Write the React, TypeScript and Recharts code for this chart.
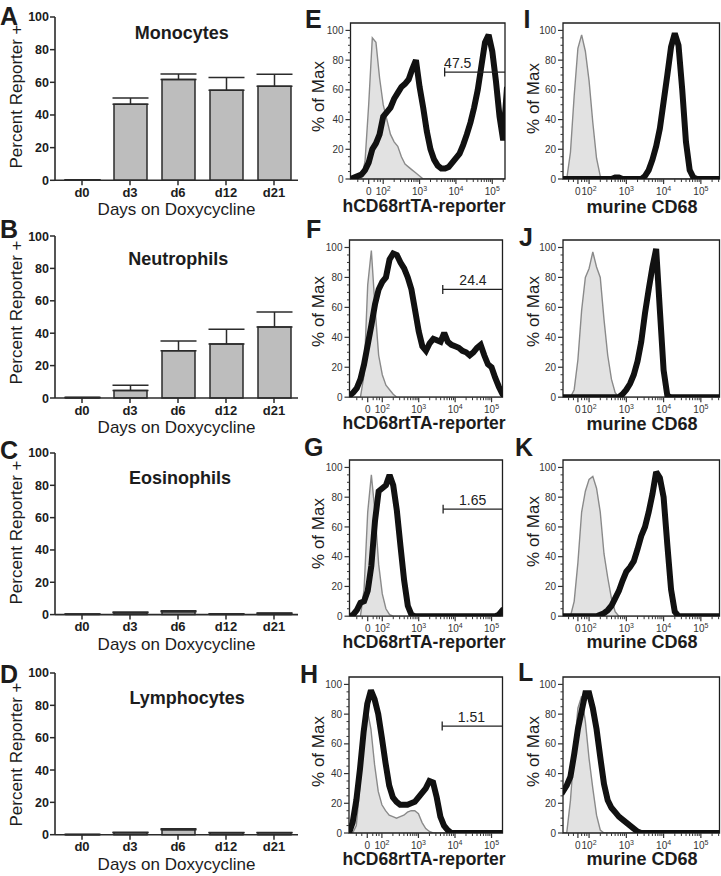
import React from "react";
import {
  BarChart,
  Bar,
  XAxis,
  YAxis,
  ErrorBar,
  ComposedChart,
  Area,
  Line,
  ReferenceArea,
  ReferenceLine,
  ReferenceDot,
} from "recharts";

const FONT = '"Liberation Sans", Arial, Helvetica, sans-serif';
const INK = "#1c1c1c";

// ---------- A-D: percent reporter+ by day ----------
const DAYS = ["d0", "d3", "d6", "d12", "d21"];
const MONOCYTES = [0.3, 46.5, 61.8, 55.1, 57.6];
const MONOCYTES_ERR = [0, 3.9, 3.3, 7.8, 7.3];
const NEUTROPHILS = [0.3, 4.7, 29.2, 33.3, 43.8];
const NEUTROPHILS_ERR = [0, 3.1, 6.0, 9.1, 9.3];
const EOSINOPHILS = [0.2, 1.2, 1.8, 0.3, 0.7];
const EOSINOPHILS_ERR = [0.1, 0.4, 0.6, 0.1, 0.3];
const LYMPHOCYTES = [0.1, 1.2, 3.0, 1.2, 1.2];
const LYMPHOCYTES_ERR = [0, 0.3, 0.7, 0.2, 0.2];
const PCT_TICKS = [0, 20, 40, 60, 80, 100];

// ---------- E-L: flow histograms (x in logicle decades) ----------
const MID_BINS = [
  1.1, 1.2, 1.3, 1.4, 1.5, 1.6, 1.7, 1.8, 1.9, 2.0,
  2.1, 2.2, 2.3, 2.4, 2.5, 2.6, 2.7, 2.8, 2.9, 3.0,
  3.1, 3.2, 3.3, 3.4, 3.5, 3.6, 3.7, 3.8, 3.9, 4.0,
  4.1, 4.2, 4.3, 4.4, 4.5, 4.6, 4.7, 4.8, 4.9, 5.0,
  5.1, 5.2, 5.3, 5.4,
];
const E_BLACK = [
  0, 1, 2, 3, 6, 11, 20, 24, 30, 42,
  45, 48, 54, 58, 62, 64, 67, 74, 80, 62,
  48, 32, 20, 13, 9, 7, 7, 8, 11, 14,
  17, 23, 30, 38, 48, 60, 76, 92, 97, 86,
  66, 42, 26, 60,
];
const E_GRAY = [
  0, 0, 0, 0, 12, 50, 95, 92, 68, 50,
  40, 30, 25, 22, 15, 10, 8, 6, 4, 2,
  0, 0, 0, 0, 0, 0, 0, 0, 0, 0,
  0, 0, 0, 0, 0, 0, 0, 0, 0, 0,
  0, 0, 0, 0,
];
const F_BLACK = [
  1, 3, 6, 12, 22, 35, 48, 62, 72, 77,
  80, 92, 96, 95, 90, 86, 80, 72, 58, 44,
  34, 31, 36, 39, 38, 37, 43, 37, 35, 34,
  33, 31, 30, 28, 30, 33, 35, 28, 22, 20,
  13, 7, 2, 0,
];
const F_GRAY = [
  0, 0, 0, 0, 15, 75, 98, 60, 28, 15,
  8, 5, 2, 0, 0, 0, 0, 0, 0, 0,
  0, 0, 0, 0, 0, 0, 0, 0, 0, 0,
  0, 0, 0, 0, 0, 0, 0, 0, 0, 0,
  0, 0, 0, 0,
];
const G_BLACK = [
  0, 1, 4, 9, 10, 17, 34, 64, 84, 86,
  88, 95, 88, 71, 47, 24, 7, 1, 0, 0,
  0, 0, 0, 0, 0, 0, 0, 0, 0, 0,
  0, 0, 0, 0, 0, 0, 0, 0, 0, 0,
  0, 1, 4, 4,
];
const G_GRAY = [
  0, 0, 0, 0, 18, 70, 95, 70, 35, 15,
  5, 1, 0, 0, 0, 0, 0, 0, 0, 0,
  0, 0, 0, 0, 0, 0, 0, 0, 0, 0,
  0, 0, 0, 0, 0, 0, 0, 0, 0, 0,
  0, 0, 0, 0,
];
const H_BLACK = [
  0, 7, 22, 43, 68, 87, 96, 90, 80, 64,
  47, 32, 24, 21, 19, 19, 19, 20, 21, 24,
  27, 30, 35, 34, 24, 11, 5, 2, 0, 0,
  0, 0, 0, 0, 0, 0, 0, 0, 0, 0,
  0, 0, 0, 0,
];
const H_GRAY = [
  0, 0, 5, 32, 66, 83, 70, 46, 28, 19,
  15, 12, 11, 10, 11, 12, 14, 15, 15, 13,
  7, 3, 1, 0, 0, 0, 0, 0, 0, 0,
  0, 0, 0, 0, 0, 0, 0, 0, 0, 0,
  0, 0, 0, 0,
];

const RIGHT_BINS = [
  1.3, 1.4, 1.5, 1.6, 1.7, 1.8, 1.9, 2.0, 2.1, 2.2,
  2.3, 2.4, 2.5, 2.6, 2.7, 2.8, 2.9, 3.0, 3.1, 3.2,
  3.3, 3.4, 3.5, 3.6, 3.7, 3.8, 3.9, 4.0, 4.1, 4.2,
  4.3, 4.4, 4.5, 4.6, 4.7, 4.8, 4.9, 5.0, 5.1, 5.2,
  5.3, 5.4, 5.5,
];
const I_BLACK = [
  0, 0, 0, 0, 0, 0, 0, 0, 0, 0,
  0, 0, 0, 0, 1, 1, 0, 0, 0, 0,
  0, 0, 2, 6, 13, 22, 34, 52, 70, 89,
  98, 90, 60, 25, 6, 1, 0, 0, 0, 0,
  0, 0, 0,
];
const I_GRAY = [
  0, 0, 18, 56, 88, 97, 86, 66, 38, 14,
  2, 0, 0, 0, 0, 0, 0, 0, 0, 0,
  0, 0, 0, 0, 0, 0, 0, 0, 0, 0,
  0, 0, 0, 0, 0, 0, 0, 0, 0, 0,
  0, 0, 0,
];
const J_BLACK = [
  0, 0, 0, 0, 0, 0, 0, 0, 0, 0,
  0, 0, 0, 0, 0, 0, 2, 5, 9, 15,
  24, 37, 56, 72, 87, 99, 58, 18, 1, 0,
  0, 0, 0, 0, 0, 0, 0, 0, 0, 0,
  0, 0, 0,
];
const J_GRAY = [
  0, 0, 0, 5, 25, 58, 80, 86, 97, 87,
  80, 52, 28, 12, 3, 0, 0, 0, 0, 0,
  0, 0, 0, 0, 0, 0, 0, 0, 0, 0,
  0, 0, 0, 0, 0, 0, 0, 0, 0, 0,
  0, 0, 0,
];
const K_BLACK = [
  0, 0, 0, 0, 0, 0, 0, 0, 0, 0,
  1, 2, 4, 7, 12, 17, 24, 30, 33, 37,
  45, 54, 60, 70, 82, 97, 93, 80, 48, 18,
  3, 0, 0, 0, 0, 0, 0, 0, 0, 0,
  0, 0, 0,
];
const K_GRAY = [
  0, 0, 0, 10, 36, 70, 84, 92, 94, 86,
  70, 42, 26, 12, 3, 0, 0, 0, 0, 0,
  0, 0, 0, 0, 0, 0, 0, 0, 0, 0,
  0, 0, 0, 0, 0, 0, 0, 0, 0, 0,
  0, 0, 0,
];
const L_BLACK = [
  28, 32, 38, 53, 70, 82, 94, 94, 84, 70,
  51, 33, 22, 17, 14, 11, 9, 7, 5, 3,
  1, 0, 0, 0, 0, 0, 0, 0, 0, 0,
  0, 0, 0, 0, 0, 0, 0, 0, 0, 0,
  0, 0, 0,
];
const L_GRAY = [
  0, 0, 22, 56, 84, 92, 75, 50, 30, 12,
  2, 0, 0, 0, 0, 0, 0, 0, 0, 0,
  0, 0, 0, 0, 0, 0, 0, 0, 0, 0,
  0, 0, 0, 0, 0, 0, 0, 0, 0, 0,
  0, 0, 0,
];

const MAX_TICKS = [0, 5, 10, 15, 20, 25, 30, 35, 40, 45, 50, 55, 60, 65, 70, 75, 80, 85, 90, 95, 100];
const LOG_LABELS = ["0", "10^2", "10^3", "10^4", "10^5"];
const MID_MAJOR = [1.6, 2, 3, 4, 5];
const RIGHT_MAJOR = [1.7, 2, 3, 4, 5];
const MID_LOW_MINOR = [1.3, 1.45, 1.75, 1.85, 1.92];
const RIGHT_LOW_MINOR = [1.45, 1.58, 1.8, 1.88, 1.94];
const LOG_MINOR = [2, 3, 4, 5].flatMap((k) =>
  [2, 3, 4, 5, 6, 7, 8, 9].map((m) => k + Math.log10(m))
);
const GATE_PCT = ["47.5", "24.4", "1.65", "1.51"];
const GATE_Y = 72;

// ---------- text helper (y = cap centre) ----------
function Txt({ x, y, size, bold, left, rotate, color = INK, children }: any) {
  const w = 400;
  return (
    <div
      style={{
        position: "absolute",
        left: left ? x : x - w / 2,
        top: y - 0.49 * size,
        width: left ? undefined : w,
        height: size,
        lineHeight: `${size}px`,
        fontSize: size,
        fontWeight: bold ? 700 : 400,
        color,
        textAlign: left ? "left" : "center",
        whiteSpace: "nowrap",
        transform: rotate ? "rotate(-90deg)" : undefined,
        transformOrigin: "50% 50%",
      }}
    >
      {children}
    </div>
  );
}

// ---------- bar panels ----------
const BAR_ROWS = [
  { title: "Monocytes", values: MONOCYTES, errs: MONOCYTES_ERR, y100: 16.7, y0: 180, letter: "A", letterY: 16, titleX: 181.7, titleY: 32.5, xlY: 209, ylY: 96 },
  { title: "Neutrophils", values: NEUTROPHILS, errs: NEUTROPHILS_ERR, y100: 235.7, y0: 397.7, letter: "B", letterY: 229, titleX: 178.3, titleY: 259, xlY: 427.5, ylY: 312 },
  { title: "Eosinophils", values: EOSINOPHILS, errs: EOSINOPHILS_ERR, y100: 452.7, y0: 614.3, letter: "C", letterY: 450.7, titleX: 180, titleY: 477.5, xlY: 644, ylY: 532 },
  { title: "Lymphocytes", values: LYMPHOCYTES, errs: LYMPHOCYTES_ERR, y100: 673.3, y0: 835, letter: "D", letterY: 674, titleX: 187.2, titleY: 697.5, xlY: 864, ylY: 754 },
];

function BarPanel({ row }: any) {
  const mt = 8;
  const xh = 24;
  const plotH = row.y0 - row.y100;
  const axisY = mt + plotH;
  const axisX = 55;
  const data = DAYS.map((day, i) => ({ day, value: row.values[i], err: [0, row.errs[i]] }));
  return (
    <div style={{ position: "absolute", left: 0, top: row.y100 - mt }}>
      <BarChart
        width={300}
        height={mt + plotH + xh}
        data={data}
        margin={{ top: mt, right: 2, bottom: 0, left: 0 }}
      >
        <XAxis
          dataKey="day"
          height={xh}
          padding={{ left: 3, right: 0 }}
          interval={0}
          axisLine={{ stroke: "#2b2b2b", strokeWidth: 1.6 }}
          tickLine={false}
          tick={(p: any) => (
            <g>
              <line x1={p.x} x2={p.x} y1={axisY} y2={axisY + 5} stroke="#2b2b2b" strokeWidth={1.5} />
              <text x={p.x} y={axisY + 16.5} textAnchor="middle" fontSize={13} fontWeight={700} fill={INK} fontFamily={FONT}>
                {p.payload.value}
              </text>
            </g>
          )}
        />
        <YAxis
          width={axisX}
          domain={[0, 100]}
          ticks={PCT_TICKS}
          interval={0}
          axisLine={{ stroke: "#2b2b2b", strokeWidth: 1.6 }}
          tickLine={false}
          tick={(p: any) => (
            <g>
              <line x1={axisX - 5} x2={axisX} y1={p.y} y2={p.y} stroke="#2b2b2b" strokeWidth={1.5} />
              <text x={axisX - 6} y={p.y + 4.5} textAnchor="end" fontSize={12.5} fontWeight={700} fill={INK} fontFamily={FONT}>
                {p.payload.value}
              </text>
            </g>
          )}
        />
        <Bar dataKey="value" barSize={33} fill="#bdbdbd" stroke="#2b2b2b" strokeWidth={1.5} isAnimationActive={false}>
          <ErrorBar dataKey="err" direction="y" width={18} stroke="#2b2b2b" strokeWidth={1.5} />
        </Bar>
      </BarChart>
    </div>
  );
}

// ---------- histogram panels ----------
const HIST_TOP = [23, 239.5, 459.5, 677];
const HIST_ZERO = [179, 396.7, 615.7, 833];

const MID_PANELS = [
  { letter: "E", letterX: 305, letterY: 19, black: E_BLACK, gray: E_GRAY, plotLeft: 350.5, plotRight: 505, domain: [1.1, 5.35], gate: { start: 3.69, labelX: 4.05 }, xtY: 206.5, ytY: 96.7 },
  { letter: "F", letterX: 306, letterY: 229, black: F_BLACK, gray: F_GRAY, plotLeft: 349.5, plotRight: 502.5, domain: [1.1, 5.3], gate: { start: 3.66, labelX: 4.49 }, xtY: 424, ytY: 311.7 },
  { letter: "G", letterX: 304, letterY: 447.5, black: G_BLACK, gray: G_GRAY, plotLeft: 349.5, plotRight: 502.5, domain: [1.1, 5.3], gate: { start: 3.67, labelX: 4.48 }, xtY: 642.5, ytY: 533 },
  { letter: "H", letterX: 300, letterY: 674.5, black: H_BLACK, gray: H_GRAY, plotLeft: 349, plotRight: 502.5, domain: [1.1, 5.3], gate: { start: 3.65, labelX: 4.45 }, xtY: 860, ytY: 751.7 },
];
const RIGHT_PANELS = [
  { letter: "I", letterX: 523.4, letterY: 19, black: I_BLACK, gray: I_GRAY, xtY: 207, ytY: 98.3 },
  { letter: "J", letterX: 519, letterY: 237, black: J_BLACK, gray: J_GRAY, xtY: 424, ytY: 311.7 },
  { letter: "K", letterX: 515, letterY: 447.5, black: K_BLACK, gray: K_GRAY, xtY: 642, ytY: 531.7 },
  { letter: "L", letterX: 518, letterY: 672.5, black: L_BLACK, gray: L_GRAY, xtY: 859, ytY: 751.7 },
];

function HistPanel({ left, plotLeft, plotRight, top, zero, bins, black, gray, domain, major, lowMinor, gate }: any) {
  const mt = 8;
  const xh = 24;
  const plotH = zero - top;
  const axisY = mt + plotH;
  const yw = plotLeft - left;
  const data = bins.map((x: number, i: number) => ({ x, black: black[i], gray: gray[i] }));
  const ticks = [...major, ...lowMinor, ...LOG_MINOR].filter((t) => t >= domain[0] && t <= domain[1]);
  return (
    <div style={{ position: "absolute", left, top: top - mt }}>
      <ComposedChart
        width={plotRight - left + 2}
        height={mt + plotH + xh}
        data={data}
        margin={{ top: mt, right: 2, bottom: 0, left: 0 }}
      >
        <XAxis
          type="number"
          dataKey="x"
          domain={domain}
          allowDataOverflow
          ticks={ticks}
          interval={0}
          height={xh}
          axisLine={false}
          tickLine={false}
          tick={(p: any) => {
            const idx = major.findIndex((m: number) => Math.abs(m - p.payload.value) < 1e-6);
            if (idx < 0) {
              return <line x1={p.x} x2={p.x} y1={axisY} y2={axisY + 3} stroke="#333" strokeWidth={1} />;
            }
            const [base, exp] = LOG_LABELS[idx].split("^");
            return (
              <g>
                <line x1={p.x} x2={p.x} y1={axisY} y2={axisY + 5} stroke="#333" strokeWidth={1.2} />
                <text x={p.x} y={axisY + 15.5} textAnchor="middle" fontSize={10} fill="#333" fontFamily={FONT}>
                  <tspan>{base}</tspan>
                  {exp ? (
                    <tspan dy={-4} fontSize={7}>
                      {exp}
                    </tspan>
                  ) : null}
                </text>
              </g>
            );
          }}
        />
        <YAxis
          type="number"
          domain={[0, 105]}
          allowDataOverflow
          ticks={MAX_TICKS}
          interval={0}
          width={yw}
          axisLine={false}
          tickLine={false}
          tick={(p: any) => {
            const v = p.payload.value;
            if (v % 20 !== 0) {
              return <line x1={yw - 2.5} x2={yw} y1={p.y} y2={p.y} stroke="#333" strokeWidth={1} />;
            }
            return (
              <g>
                <line x1={yw - 5} x2={yw} y1={p.y} y2={p.y} stroke="#333" strokeWidth={1.2} />
                <text x={yw - 7} y={p.y + 3.6} textAnchor="end" fontSize={10} fill="#333" fontFamily={FONT}>
                  {v}
                </text>
              </g>
            );
          }}
        />
        <Area
          dataKey="gray"
          type="linear"
          fill="#e2e2e2"
          fillOpacity={1}
          stroke="#8a8a8a"
          strokeWidth={1.4}
          dot={false}
          activeDot={false}
          isAnimationActive={false}
        />
        <Line
          dataKey="black"
          type="linear"
          stroke="#111"
          strokeWidth={6}
          strokeLinejoin="miter"
          strokeMiterlimit={2}
          strokeLinecap="square"
          dot={false}
          activeDot={false}
          isAnimationActive={false}
        />
        <ReferenceArea
          x1={domain[0]}
          x2={domain[1]}
          y1={0}
          y2={105}
          fill="none"
          fillOpacity={0}
          stroke="#1e1e1e"
          strokeWidth={1.3}
          ifOverflow="visible"
        />
        {gate ? (
          <ReferenceLine
            segment={[
              { x: gate.start, y: GATE_Y },
              { x: domain[1], y: GATE_Y },
            ]}
            stroke="#222"
            strokeWidth={1.3}
            ifOverflow="visible"
          />
        ) : null}
        {gate ? (
          <ReferenceLine
            segment={[
              { x: gate.start, y: GATE_Y - 3 },
              { x: gate.start, y: GATE_Y + 3 },
            ]}
            stroke="#222"
            strokeWidth={1.3}
            ifOverflow="visible"
          />
        ) : null}
        {gate ? (
          <ReferenceDot
            x={gate.labelX}
            y={78}
            r={0}
            fill="none"
            stroke="none"
            ifOverflow="visible"
            label={{ value: gate.text, position: "center", fill: "#222", fontSize: 14, fontFamily: FONT }}
          />
        ) : null}
      </ComposedChart>
    </div>
  );
}

export default function App() {
  return (
    <div
      style={{
        position: "absolute",
        left: 0,
        top: 0,
        width: 721,
        height: 876,
        background: "#fff",
        fontFamily: FONT,
        overflow: "hidden",
      }}
    >
      {BAR_ROWS.map((row) => (
        <React.Fragment key={row.letter}>
          <BarPanel row={row} />
          <Txt x={0} y={row.letterY} size={25} bold left>
            {row.letter}
          </Txt>
          <Txt x={row.titleX} y={row.titleY} size={18} bold>
            {row.title}
          </Txt>
          <Txt x={176.5} y={row.xlY} size={17}>
            Days on Doxycycline
          </Txt>
          <Txt x={15.5} y={row.ylY} size={17} rotate>
            Percent Reporter +
          </Txt>
        </React.Fragment>
      ))}

      {MID_PANELS.map((p, i) => (
        <React.Fragment key={p.letter}>
          <HistPanel
            left={290}
            plotLeft={p.plotLeft}
            plotRight={p.plotRight}
            top={HIST_TOP[i]}
            zero={HIST_ZERO[i]}
            bins={MID_BINS}
            black={p.black}
            gray={p.gray}
            domain={p.domain}
            major={MID_MAJOR}
            lowMinor={MID_LOW_MINOR}
            gate={{ ...p.gate, text: GATE_PCT[i] }}
          />
          <Txt x={p.letterX} y={p.letterY} size={25} bold left>
            {p.letter}
          </Txt>
          <Txt x={424} y={p.xtY} size={17.5} bold>
            hCD68rtTA-reporter
          </Txt>
          <Txt x={317.5} y={p.ytY} size={17} rotate>
            % of Max
          </Txt>
        </React.Fragment>
      ))}

      {RIGHT_PANELS.map((p, i) => (
        <React.Fragment key={p.letter}>
          <HistPanel
            left={500}
            plotLeft={563}
            plotRight={719.5}
            top={HIST_TOP[i]}
            zero={HIST_ZERO[i]}
            bins={RIGHT_BINS}
            black={p.black}
            gray={p.gray}
            domain={[1.3, 5.5]}
            major={RIGHT_MAJOR}
            lowMinor={RIGHT_LOW_MINOR}
          />
          <Txt x={p.letterX} y={p.letterY} size={25} bold left>
            {p.letter}
          </Txt>
          <Txt x={642} y={p.xtY} size={18} bold>
            murine CD68
          </Txt>
          <Txt x={532.5} y={p.ytY} size={17} rotate>
            % of Max
          </Txt>
        </React.Fragment>
      ))}
    </div>
  );
}
